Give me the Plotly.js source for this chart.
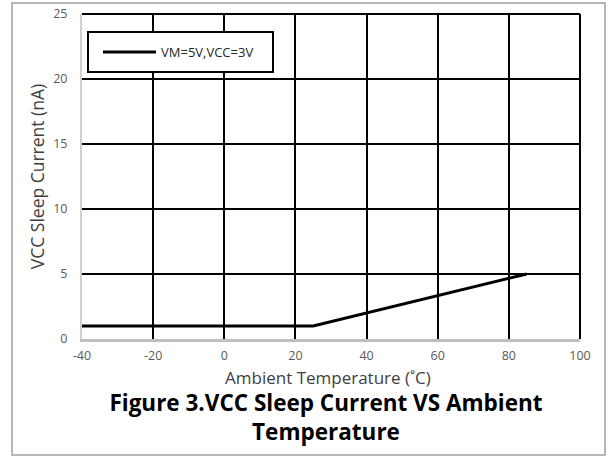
<!DOCTYPE html>
<html>
<head>
<meta charset="utf-8">
<script src="https://cdn.plot.ly/plotly-3.0.1.min.js"></script>
<style>html,body{margin:0;padding:0;background:#fff;}#chart{width:609px;height:457px;}</style>
</head>
<body>
<div id="chart"></div>
<script>
// Data
const temperature = [-40, 25, 85];          // Ambient temperature (°C)
const sleepCurrent = [1, 1, 5];             // VCC sleep current (nA)
const seriesName = 'VM=5V,VCC=3V';
const xTicks = [-40, -20, 0, 20, 40, 60, 80, 100];
const yTicks = [0, 5, 10, 15, 20, 25];

const FONT = 'Open Sans, Noto Sans, sans-serif';
// pixel helpers for decoration placement (paper coordinates)
const L = 82, R = 580, T = 14, B = 339;
const px = v => (v - L) / (R - L);
const py = v => (B - v) / (B - T);

const trace = {
  x: temperature,
  y: sleepCurrent,
  name: seriesName,
  type: 'scatter',
  mode: 'lines',
  line: {color: '#000000', width: 3},
  showlegend: true
};

const layout = {
  width: 609,
  height: 457,
  margin: {l: L, r: 609 - R, t: T, b: 457 - B, pad: 0},
  paper_bgcolor: '#ffffff',
  plot_bgcolor: '#ffffff',
  showlegend: true,
  font: {family: FONT, color: '#595959', size: 12},
  title: {
    text: '<b>Figure 3.VCC Sleep Current VS Ambient<br>Temperature</b>',
    font: {family: FONT, size: 22.5, color: '#000000'},
    x: 326 / 609, xanchor: 'center', xref: 'container',
    y: 1 - 411 / 457, yanchor: 'middle', yref: 'container'
  },
  xaxis: {
    range: [-40, 100],
    tickvals: xTicks,
    ticktext: xTicks.map(String),
    showgrid: true,
    gridcolor: '#000000',
    gridwidth: 2,
    zeroline: false,
    showline: true,
    linecolor: '#bfbfbf',
    linewidth: 3,
    ticks: '',
    ticklabelstandoff: 3,
    tickfont: {family: FONT, size: 12.5, color: '#595959'},
    fixedrange: true
  },
  yaxis: {
    range: [0, 25],
    tickvals: yTicks,
    ticktext: yTicks.map(String),
    showgrid: true,
    gridcolor: '#000000',
    gridwidth: 2,
    zeroline: false,
    showline: true,
    linecolor: '#d0d0d0',
    linewidth: 2,
    ticks: '',
    ticklabelstandoff: 10,
    tickfont: {family: FONT, size: 12.5, color: '#595959'},
    title: {text: 'VCC Sleep Current (nA)', font: {family: FONT, size: 17.5, color: '#404040'}, standoff: 4},
    fixedrange: true
  },
  legend: {
    x: px(98), y: py(37),
    xanchor: 'left', yanchor: 'top',
    bgcolor: 'rgba(0,0,0,0)',
    borderwidth: 0,
    itemwidth: 53,
    font: {family: FONT, size: 13, color: '#262626'}
  },
  annotations: [{
    text: 'Ambient Temperature (˚C)',
    xref: 'paper', yref: 'paper',
    x: px(328), y: py(377), xanchor: 'center', yanchor: 'middle',
    showarrow: false,
    font: {family: FONT, size: 17, color: '#404040'}
  }],
  shapes: [
    // top and right grid lines at the range edges
    {type: 'line', xref: 'paper', yref: 'paper', x0: 0, x1: 1, y0: 1, y1: 1, layer: 'below',
     line: {color: '#000000', width: 2}},
    {type: 'line', xref: 'paper', yref: 'paper', x0: 1, x1: 1, y0: 0, y1: 1, layer: 'below',
     line: {color: '#000000', width: 2}},
    // legend box
    {type: 'rect', xref: 'paper', yref: 'paper', layer: 'above',
     x0: px(88), x1: px(273), y0: py(72), y1: py(32),
     line: {color: '#000000', width: 2}, fillcolor: '#ffffff'},
    // outer chart border
    {type: 'rect', xref: 'paper', yref: 'paper', layer: 'above',
     x0: px(12), x1: px(605), y0: py(455), y1: py(3),
     line: {color: '#a0a0a0', width: 1.5}, fillcolor: 'rgba(0,0,0,0)'}
  ]
};

Plotly.newPlot('chart', [trace], layout, {displayModeBar: false, staticPlot: true});
</script>
</body>
</html>
